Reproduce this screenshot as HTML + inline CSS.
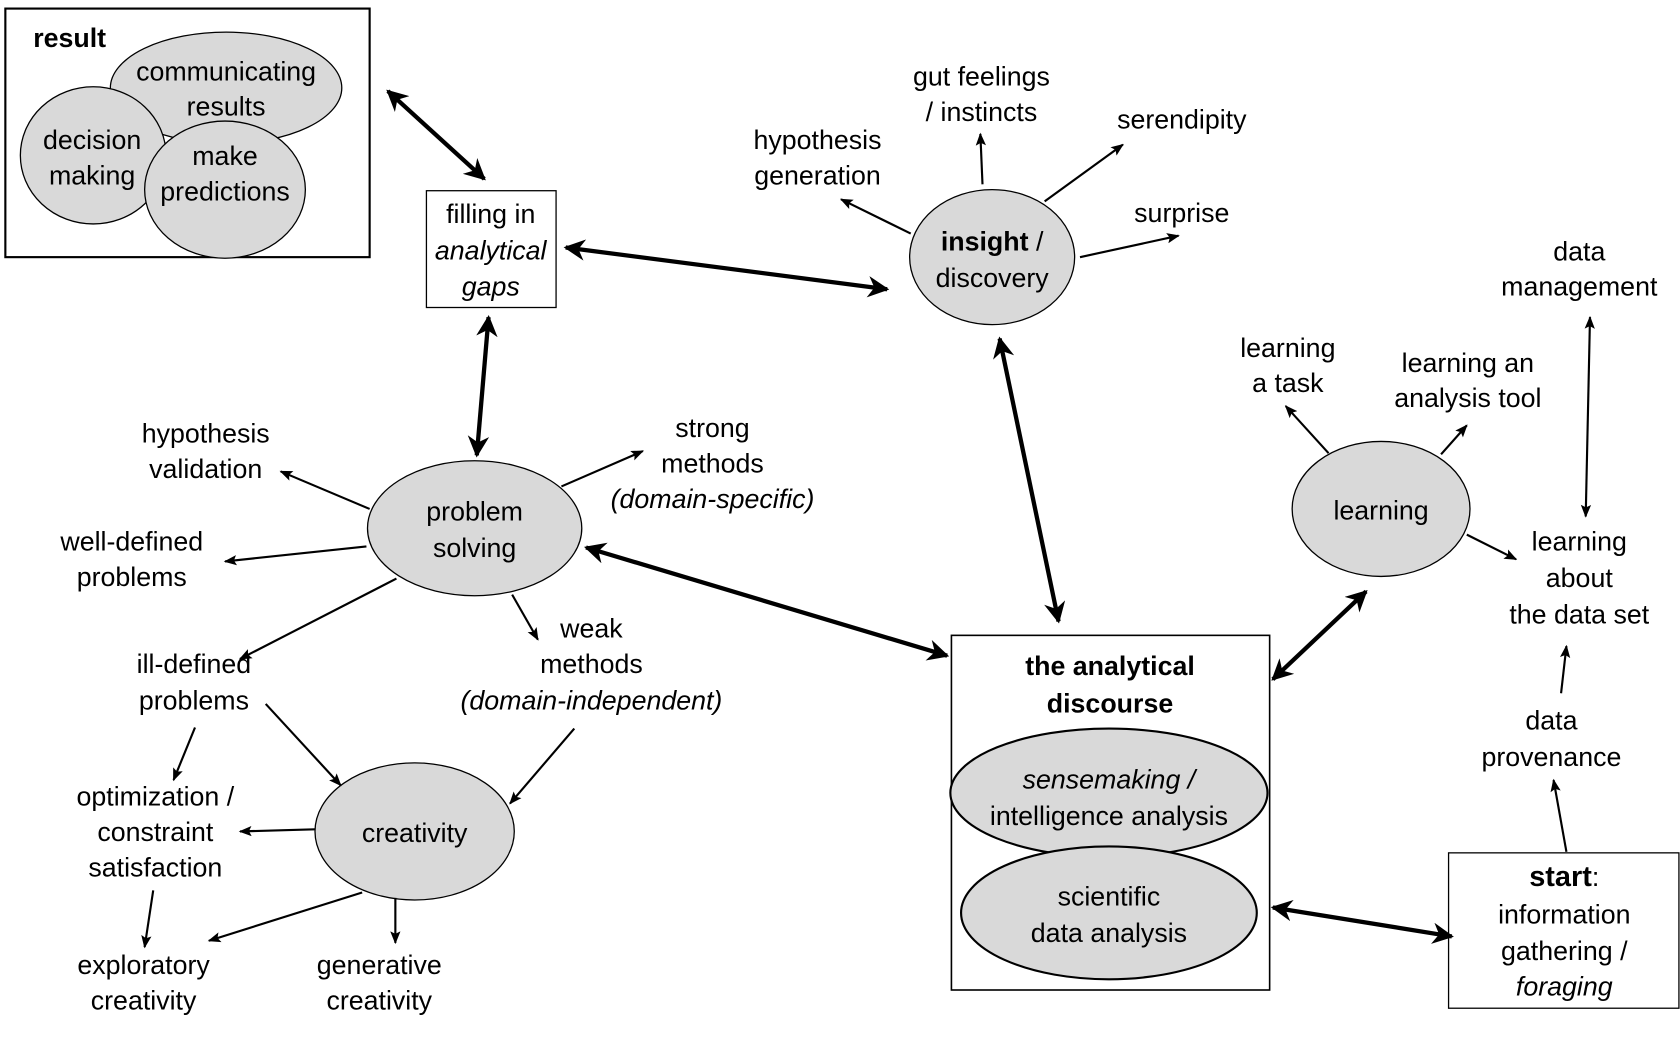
<!DOCTYPE html>
<html><head><style>
html,body{margin:0;padding:0;background:#fff;}
svg{display:block;}
text{font-family:"Liberation Sans",sans-serif;font-size:25px;fill:#000;text-anchor:middle;}
.i{font-style:italic;}
.b{font-weight:bold;}
</style></head><body>
<svg width="1680" height="1050" viewBox="0 0 1568 980" xmlns="http://www.w3.org/2000/svg">
<defs>
<marker id="ta" viewBox="0 0 10 10" refX="9" refY="5" markerWidth="5" markerHeight="5" orient="auto-start-reverse" markerUnits="strokeWidth"><path d="M0,0 L10,5 L0,10 L3,5 z" fill="#000"/></marker>
<marker id="sa" viewBox="0 0 10 10" refX="9" refY="5" markerWidth="6" markerHeight="6" orient="auto-start-reverse" markerUnits="strokeWidth"><path d="M0,1 L10,5 L0,9 L2,5 z" fill="#000"/></marker>
</defs>
<g fill="#d9d9d9" stroke="#000" stroke-width="1.2">
<rect x="5" y="8" width="340" height="232" fill="#fff" stroke-width="2"/>
<ellipse cx="211" cy="82" rx="108" ry="52"/>
<ellipse cx="87" cy="145" rx="68" ry="64"/>
<ellipse cx="210" cy="177" rx="75" ry="64"/>
<rect x="398" y="178" width="121" height="109" fill="#fff"/>
<ellipse cx="926" cy="240" rx="77" ry="63"/>
<ellipse cx="443" cy="493" rx="100" ry="63"/>
<ellipse cx="387" cy="776" rx="93" ry="64"/>
<ellipse cx="1289" cy="475" rx="83" ry="63"/>
<rect x="888" y="593" width="297" height="331" fill="#fff" stroke-width="1.5"/>
<ellipse cx="1035" cy="740" rx="148" ry="60" stroke-width="2"/>
<ellipse cx="1035" cy="852" rx="138" ry="62" stroke-width="2"/>
<rect x="1352" y="796" width="215" height="145" fill="#fff"/>
</g>
<g stroke="#000" stroke-width="4" marker-start="url(#ta)" marker-end="url(#ta)">
<line x1="362" y1="85" x2="452" y2="167"/>
<line x1="456" y1="296" x2="445" y2="425"/>
<line x1="528" y1="231" x2="828" y2="270"/>
<line x1="933" y1="316" x2="988" y2="580"/>
<line x1="547" y1="511" x2="884" y2="612"/>
<line x1="1188" y1="634" x2="1275" y2="552"/>
<line x1="1188" y1="847" x2="1355" y2="874"/>
</g>
<g stroke="#000" stroke-width="2" marker-end="url(#sa)">
<line x1="850" y1="218" x2="785" y2="186"/>
<line x1="917" y1="172" x2="915" y2="125"/>
<line x1="975" y1="188" x2="1048" y2="135"/>
<line x1="1008" y1="240" x2="1100" y2="220"/>
<line x1="345" y1="475" x2="262" y2="440"/>
<line x1="342" y1="510" x2="210" y2="524"/>
<line x1="370" y1="540" x2="224" y2="615"/>
<line x1="524" y1="454" x2="600" y2="421"/>
<line x1="478" y1="555" x2="502" y2="597"/>
<line x1="1240" y1="423" x2="1200" y2="379"/>
<line x1="1345" y1="424" x2="1369" y2="397"/>
<line x1="1369" y1="499" x2="1415" y2="522"/>
<line x1="1480" y1="482" x2="1484" y2="296" marker-start="url(#sa)"/>
<line x1="1457" y1="647" x2="1462" y2="603"/>
<line x1="1462" y1="795" x2="1450" y2="728"/>
<line x1="182" y1="679" x2="162" y2="728"/>
<line x1="248" y1="657" x2="318" y2="733"/>
<line x1="536" y1="680" x2="476" y2="750"/>
<line x1="294" y1="774" x2="224" y2="776"/>
<line x1="143" y1="831" x2="135" y2="884"/>
<line x1="338" y1="833" x2="195" y2="878"/>
<line x1="369" y1="838" x2="369" y2="880"/>
</g>
<text x="65" y="44" class="b" font-size="30">result</text>
<text x="211" y="75">communicating</text><text x="211" y="108">results</text>
<text x="86" y="139">decision</text><text x="86" y="172">making</text>
<text x="210" y="154">make</text><text x="210" y="187">predictions</text>
<text x="458" y="208">filling in</text><text x="458" y="242" class="i">analytical</text><text x="458" y="276" class="i">gaps</text>
<text x="916" y="80">gut feelings</text><text x="916" y="113">/ instincts</text>
<text x="763" y="139">hypothesis</text><text x="763" y="172">generation</text>
<text x="1103" y="120">serendipity</text>
<text x="1103" y="207">surprise</text>
<text x="926" y="234"><tspan class="b">insight</tspan> /</text><text x="926" y="268">discovery</text>
<text x="1474" y="243">data</text><text x="1474" y="276">management</text>
<text x="1202" y="333">learning</text><text x="1202" y="366">a task</text>
<text x="1370" y="347">learning an</text><text x="1370" y="380">analysis tool</text>
<text x="1289" y="485">learning</text>
<text x="1474" y="514">learning</text><text x="1474" y="548">about</text><text x="1474" y="582">the data set</text>
<text x="1448" y="681">data</text><text x="1448" y="715">provenance</text>
<text x="192" y="413">hypothesis</text><text x="192" y="446">validation</text>
<text x="665" y="408">strong</text><text x="665" y="441">methods</text><text x="665" y="474" class="i">(domain-specific)</text>
<text x="443" y="486">problem</text><text x="443" y="520">solving</text>
<text x="123" y="514">well-defined</text><text x="123" y="547">problems</text>
<text x="552" y="595">weak</text><text x="552" y="628">methods</text><text x="552" y="662" class="i">(domain-independent)</text>
<text x="181" y="628">ill-defined</text><text x="181" y="662">problems</text>
<text x="1036" y="630" class="b" font-size="27">the analytical</text><text x="1036" y="665" class="b" font-size="27">discourse</text>
<text x="1035" y="736" class="i">sensemaking /</text><text x="1035" y="770">intelligence analysis</text>
<text x="1035" y="845">scientific</text><text x="1035" y="879">data analysis</text>
<text x="145" y="752">optimization /</text><text x="145" y="785">constraint</text><text x="145" y="818">satisfaction</text>
<text x="387" y="786">creativity</text>
<text x="134" y="909">exploratory</text><text x="134" y="942">creativity</text>
<text x="354" y="909">generative</text><text x="354" y="942">creativity</text>
<text x="1460" y="827"><tspan class="b" font-size="27">start</tspan>:</text><text x="1460" y="862">information</text><text x="1460" y="896">gathering /</text><text x="1460" y="929" class="i">foraging</text>
</svg>
</body></html>
